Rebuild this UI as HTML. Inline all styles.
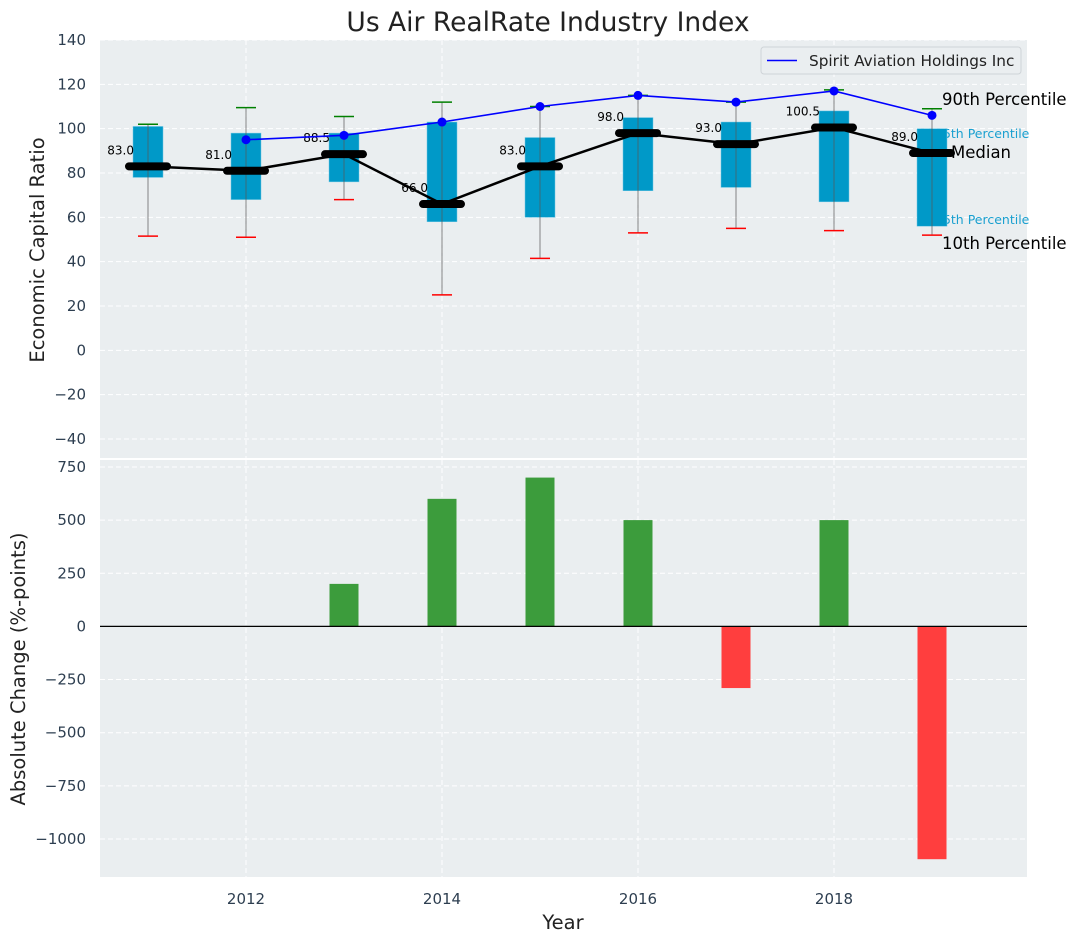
<!DOCTYPE html>
<html><head><meta charset="utf-8"><style>
body{margin:0;background:#fff;font-family:"Liberation Sans","DejaVu Sans",sans-serif}
svg text{font-family:"DejaVu Sans","Liberation Sans",sans-serif}
</style></head><body>
<svg id="c" width="1077" height="942" xmlns="http://www.w3.org/2000/svg"></svg>
<script>
const years=[2011,2012,2013,2014,2015,2016,2017,2018,2019];
const p10=[51.5,51,68,25,41.5,53,55,54,52];
const q1=[78,68,76,58,60,72,73.5,67,56];
const med=[83,81,88.5,66,83,98,93,100.5,89];
const q3=[101,98,98,103,96,105,103,108,100];
const p90=[102,109.5,105.5,112,110,115,112,117.5,109];
const compYears=[2012,2013,2014,2015,2016,2017,2018,2019];
const compVals=[95,97,103,110,115,112,117,106];
const chgYears=[2013,2014,2015,2016,2017,2018,2019];
const chgVals=[200,600,700,500,-290,500,-1095];
const topTicks=[140,120,100,80,60,40,20,0,-20,-40];
const botTicks=[750,500,250,0,-250,-500,-750,-1000];
const xTicks=[2012,2014,2016,2018];

const NS="http://www.w3.org/2000/svg",svg=document.getElementById('c');
function el(t,a,p){const e=document.createElementNS(NS,t);for(const k in a)e.setAttribute(k,a[k]);(p||svg).appendChild(e);return e;}
const L=100,R=1027,T1=40,B1=458,T2=460,B2=877;
const X=v=>148+(v-2011)*98;
const Y1=v=>40+(140-v)*2.2167;
const Y2=v=>626.4-v*0.2126;

let e;
e=el('rect',{x:L,y:T1,width:R-L,height:B1-T1,fill:'#eaeef0'});

e=el('rect',{x:L,y:T2,width:R-L,height:B2-T2,fill:'#eaeef0'});


topTicks.forEach(t=>{el('line',{x1:L,x2:R,y1:Y1(t),y2:Y1(t),stroke:'#fff','stroke-dasharray':'5,3','stroke-width':1});
 e=el('text',{x:L-14,y:Y1(t)+5,'text-anchor':'end','font-size':15,fill:'#2d3e50'});e.textContent=t<0?'\u2212'+(-t):t;
 });
botTicks.forEach(t=>{el('line',{x1:L,x2:R,y1:Y2(t),y2:Y2(t),stroke:'#fff','stroke-dasharray':'5,3','stroke-width':1});
 e=el('text',{x:L-14,y:Y2(t)+5,'text-anchor':'end','font-size':15,fill:'#2d3e50'});e.textContent=t<0?'\u2212'+(-t):t;
 });
xTicks.forEach(t=>{el('line',{x1:X(t),x2:X(t),y1:T1,y2:B1,stroke:'#fff','stroke-dasharray':'5,3'});
 el('line',{x1:X(t),x2:X(t),y1:T2,y2:B2,stroke:'#fff','stroke-dasharray':'5,3'});
 e=el('text',{x:X(t),y:904,'text-anchor':'middle','font-size':15,fill:'#2d3e50'});e.textContent=t;
 });

const ann=[['90th Percentile',942,105,16.5,'#000'],['75th Percentile',935,138,12.5,'#1aa0d0'],['Median',951,158,16.5,'#000'],['25th Percentile',935,224,12.5,'#1aa0d0'],['10th Percentile',942,249,16.5,'#000']];
ann.forEach(a=>{e=el('text',{x:a[1],y:a[2],'font-size':a[3],fill:a[4]});e.textContent=a[0];
 });

years.forEach((y,i)=>{const x=X(y);
 e=el('rect',{x:x-15,y:Y1(q3[i]),width:30,height:Y1(q1[i])-Y1(q3[i]),fill:'#0099c8',stroke:'#6fc7e4','stroke-width':0.5});
 
 el('line',{x1:x,x2:x,y1:Y1(p90[i]),y2:Y1(p10[i]),stroke:'#555','stroke-opacity':0.7,'stroke-width':1});
 e=el('line',{x1:x-10,x2:x+10,y1:Y1(p90[i]),y2:Y1(p90[i]),stroke:'green','stroke-width':1.5});
 
 e=el('line',{x1:x-10,x2:x+10,y1:Y1(p10[i]),y2:Y1(p10[i]),stroke:'red','stroke-width':1.5});
 
});
e=el('polyline',{points:years.map((y,i)=>X(y)+','+Y1(med[i])).join(' '),fill:'none',stroke:'#000','stroke-width':2.5});

years.forEach((y,i)=>{const x=X(y);
 e=el('line',{x1:x-19,x2:x+19,y1:Y1(med[i]),y2:Y1(med[i]),stroke:'#000','stroke-width':8,'stroke-linecap':'round'});
 
 e=el('text',{x:x-14,y:Y1(med[i])-12,'text-anchor':'end','font-size':12,fill:'#000'});e.textContent=med[i].toFixed(1);
 
});
e=el('polyline',{points:compYears.map((y,i)=>X(y)+','+Y1(compVals[i])).join(' '),fill:'none',stroke:'#0000ff','stroke-width':1.6});

compYears.forEach((y,i)=>{e=el('circle',{cx:X(y),cy:Y1(compVals[i]),r:4.5,fill:'#0000ff'});
 });

const lg=el('g',{});
el('rect',{x:761,y:47,width:260,height:27,rx:3,fill:'#eaeef0',stroke:'#cfd4d8'},lg);
el('line',{x1:767,x2:797,y1:60.5,y2:60.5,stroke:'#0000ff','stroke-width':1.6},lg);
e=el('text',{x:809,y:66,'font-size':15.3,fill:'#222'},lg);e.textContent='Spirit Aviation Holdings Inc';

chgYears.forEach((y,i)=>{const v=chgVals[i];
 e=el('rect',{x:X(y)-14.5,y:Math.min(Y2(v),Y2(0)),width:29,height:Math.abs(Y2(v)-Y2(0)),fill:v>=0?'#3c9c3c':'#ff3e3e'});
 });
el('line',{x1:L,x2:R,y1:Y2(0),y2:Y2(0),stroke:'#000','stroke-width':1.2});

e=el('text',{x:548,y:31,'text-anchor':'middle','font-size':26.5,fill:'#222'});e.textContent='Us Air RealRate Industry Index';

e=el('text',{x:0,y:0,'text-anchor':'middle','font-size':19.5,fill:'#222',transform:'translate(44,250) rotate(-90)'});e.textContent='Economic Capital Ratio';

e=el('text',{x:0,y:0,'text-anchor':'middle','font-size':19.5,fill:'#222',transform:'translate(25,669) rotate(-90)'});e.textContent='Absolute Change (%-points)';

e=el('text',{x:563,y:929,'text-anchor':'middle','font-size':19.5,fill:'#222'});e.textContent='Year';

</script>
</body></html>
